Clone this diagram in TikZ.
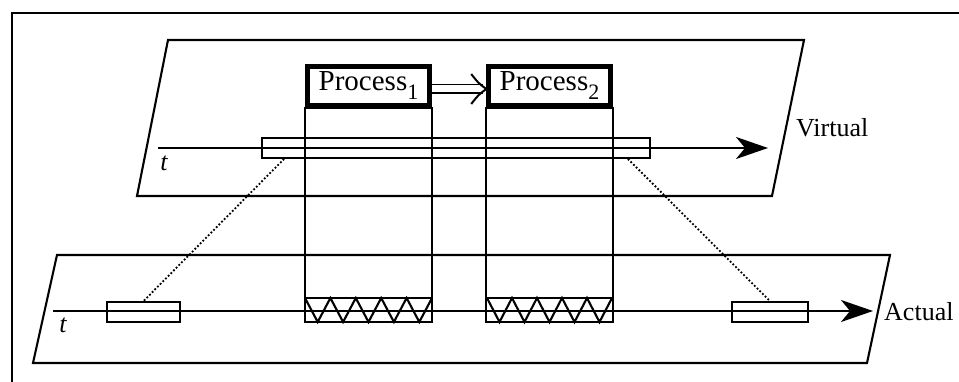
\documentclass[tikz,border=0pt]{standalone}
\usepackage{fontspec}
\setmainfont{Liberation Serif}
\usetikzlibrary{arrows.meta,calc}
\begin{document}
\begin{tikzpicture}[x=1pt,y=-1pt,
  edge/.style={line width=2.1pt, line join=miter},
  procbox/.style={draw, fill=white, line width=4.5pt, minimum width=122pt, minimum height=39pt, inner sep=0pt, font=\fontsize{29}{29}\selectfont},
  colbox/.style={draw, line width=2.1pt, minimum width=127pt, minimum height=214pt, inner sep=0pt},
  bar/.style={draw, line width=1.8pt, minimum height=20pt, inner sep=0pt},
  lbl/.style={font=\fontsize{26}{26}\selectfont, inner sep=0pt, anchor=west},
  tlbl/.style={font=\fontsize{26}{26}\selectfont\itshape, inner sep=0pt},
  bigarrow/.style={edge, -{Stealth[length=32pt,width=22pt,inset=9pt]}},
  link/.style={dotted, line width=1.8pt},
  shaft/.style={line width=1.8pt, double, double distance=7pt}
]
\useasboundingbox (0,0) rectangle (959,382);
% outer frame (partially visible)
\draw[edge] (12,382) -- (12,13) -- (959,13);
% planes
\draw[edge] (168,40) -- (804,40) -- (772,196) -- (137,196) -- cycle;
\draw[edge] (57,255) -- (890,255) -- (867,363) -- (33,363) -- cycle;
% time axes
\coordinate (vs) at (158,148);
\coordinate (ve) at (768,148);
\coordinate (as) at (53,311);
\coordinate (ae) at (873,311);
\draw[bigarrow] (vs) -- (ve);
\draw[bigarrow] (as) -- (ae);
% columns
\node[colbox] (c1) at (368.5,215) {};
\node[colbox] (c2) at (549.5,215) {};
% zigzags
\draw[edge] (305,298) -- (432,298);
\draw[edge] (305,298) \foreach \i in {1,...,5}{ -- ++(12.7,24) -- ++(12.7,-24)};
\draw[edge] (487,298) -- (612,298);
\draw[edge] (487,298) \foreach \i in {1,...,5}{ -- ++(12.5,24) -- ++(12.5,-24)};
% process boxes
\node[procbox] (p1) at (368.5,86) {Process\raisebox{-9pt}{\fontsize{22}{22}\selectfont 1}};
\node[procbox] (p2) at (549.5,86) {Process\raisebox{-9pt}{\fontsize{22}{22}\selectfont 2}};
\coordinate (pa) at ($(p1.east)+(0,3)$);
\coordinate (pb) at ($(p2.west)+(0,3)$);
\draw[shaft] (pa) -- ($(pb)+(-3,0)$);
\draw[line width=2pt] ($(pb)+(-15,-15)$) .. controls ($(pb)+(-8,-6)$) .. (pb) .. controls ($(pb)+(-8,6)$) .. ($(pb)+(-15,15)$);
% bars
\node[bar, minimum width=388pt] (vbar) at (456,148) {};
\node[bar, minimum width=73pt] (ab1) at (143.5,312) {};
\node[bar, minimum width=76pt] (ab2) at (770,312) {};
\draw[link] ($(vbar.south west)+(23,0)$) -- (ab1.north);
\draw[link] ($(vbar.south east)+(-23,0)$) -- (ab2.north);
% labels
\node[lbl] (lv) at (796,128) {Virtual};
\node[lbl] (la) at (884,312) {Actual};
\node[tlbl] (t1) at (164,163) {t};
\node[tlbl] (t2) at (63,325) {t};
\end{tikzpicture}
\end{document}
